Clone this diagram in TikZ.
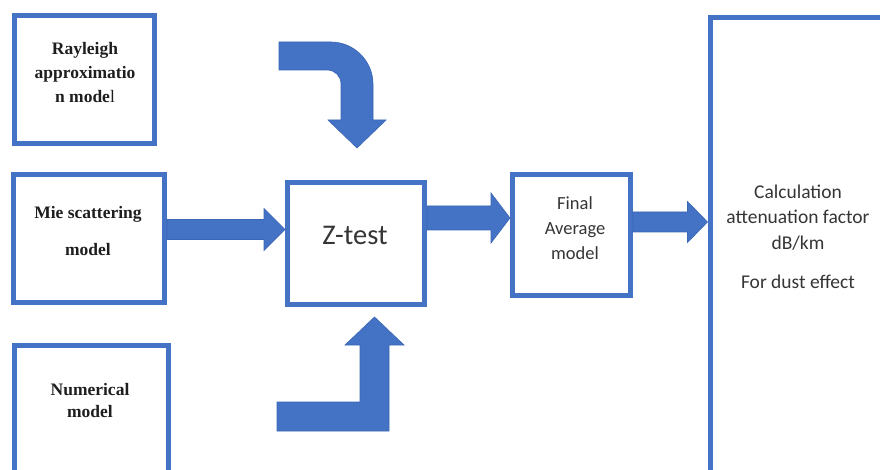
\documentclass[tikz,border=0pt]{standalone}
\usepackage{fontspec}
\setmainfont{Liberation Serif}
\newfontfamily\calib{Carlito}
\usetikzlibrary{calc}
\definecolor{boxblue}{HTML}{4472C4}
\definecolor{arrowblue}{HTML}{4472C4}
\definecolor{arrowedge}{HTML}{3A66B5}
\definecolor{txt}{HTML}{1E1E1E}
\tikzset{
  box/.style={draw=boxblue, line width=5pt, fill=white, inner sep=0pt, line join=miter},
  blk/.style={fill=arrowblue, draw=arrowedge, line width=0.6pt, line join=miter},
  lefttext/.style={font=\bfseries\fontsize{17.5}{24}\selectfont, text=txt, align=center, inner sep=0pt},
  calibtext/.style={font=\calib\fontsize{19.5}{25.5}\selectfont, text=txt!90!white, align=center, inner sep=0pt},
}
\newcommand\harrow[5]{% start, end, shaft half, head half, head length
  \filldraw[blk] ($(#1)+(0,-#3)$) -- ($(#2)+(-#5,-#3)$) -- ($(#2)+(-#5,-#4)$) -- (#2)
    -- ($(#2)+(-#5,#4)$) -- ($(#2)+(-#5,#3)$) -- ($(#1)+(0,#3)$) -- cycle;}
\begin{document}
\begin{tikzpicture}[x=1pt,y=-1pt]
\useasboundingbox (0,0) rectangle (880,470);
\fill[white] (0,0) rectangle (880,470);
\clip (0,0) rectangle (880,470);

% boxes
\node[box, minimum width=140pt, minimum height=128pt] (ray) at (84.5,79.5) {};
\node[box, minimum width=151pt, minimum height=128pt] (mie) at (89,238.5) {};
\node[box, minimum width=154pt, minimum height=140pt] (num) at (91.5,415.5) {};
\node[box, minimum width=137pt, minimum height=122pt] (zt) at (356,243.5) {};
\node[box, minimum width=118pt, minimum height=121pt] (fin) at (571.5,235) {};
\node[box, minimum width=200pt, minimum height=480pt, anchor=north west] (calc) at (707.5,15.5) {};

% texts
\node[lefttext] (rayt) at (85,72.5) {Rayleigh\\approximatio\\n mode{\mdseries l}};
\node[lefttext, font=\bfseries\fontsize{17.5}{37}\selectfont] (miet) at (88,231.5) {Mie scattering\\model};
\node[lefttext, font=\bfseries\fontsize{17.5}{22}\selectfont] (numt) at (90,401) {Numerical\\model};
\node[calibtext, font=\calib\fontsize{28.5}{32}\selectfont] (ztt) at (355,235) {Z-test};
\node[calibtext, font=\calib\fontsize{18.5}{25}\selectfont] (fint) at (575,228) {Final\\Average\\model};
\node[calibtext] (calct) at (798,237) {Calculation\\attenuation factor\\dB/km\\[14pt]For dust effect};

% straight block arrows
\coordinate (a1e) at (zt.west |- 0,229.5);
\coordinate (a1s) at (mie.east |- a1e);
\harrow{a1s}{a1e}{10}{21}{21}
\coordinate (a2e) at (fin.west |- 0,218);
\coordinate (a2s) at (zt.east |- a2e);
\harrow{a2s}{a2e}{12}{25}{19}
\coordinate (a3e) at (calc.west |- 0,222);
\coordinate (a3s) at (fin.east |- a3e);
\harrow{a3s}{a3e}{10}{20.5}{20}

% curved arrow from top into Z-test
\coordinate (toptip) at (357,148);
\filldraw[blk] (279,42) -- (331,42) .. controls (354,42) and (373,61) .. (373,84)
  -- (373,120) -- (386,120) -- (toptip) -- (328,120) -- (341,120) -- (341,84)
  .. controls (341,76) and (335,70) .. (327,70) -- (279,70) -- cycle;

% bent arrow from bottom into Z-test
\coordinate (bottip) at (374.5,317);
\filldraw[blk] (277,402) -- (360,402) -- (360,345) -- (345,345) -- (bottip)
  -- (404,345) -- (389,345) -- (389,431) -- (277,431) -- cycle;
\end{tikzpicture}
\end{document}
